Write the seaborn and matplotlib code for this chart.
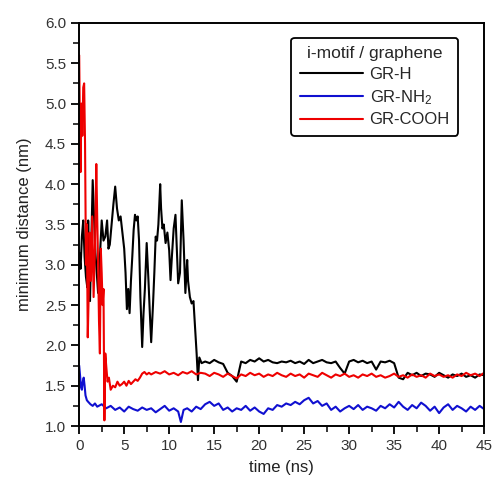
import numpy as np
import pandas as pd
import seaborn as sns
import matplotlib.pyplot as plt
from matplotlib.ticker import MultipleLocator

# GR-H (black)
t_h = [0, 0.15, 0.3, 0.45, 0.6, 0.75, 0.9, 1.0, 1.1, 1.2, 1.35, 1.5, 1.65, 1.8, 1.95,
       2.1, 2.3, 2.5, 2.7, 2.9, 3.1, 3.25, 3.4, 3.6, 3.8, 4.0, 4.2, 4.4, 4.6, 4.8,
       5.0, 5.15, 5.3, 5.45, 5.6, 5.75, 5.9, 6.05, 6.2, 6.35, 6.5, 6.65, 6.8, 7.0,
       7.15, 7.3, 7.5, 7.7, 7.85, 8.0, 8.2, 8.35, 8.5, 8.65, 8.8, 9.0, 9.1, 9.25,
       9.4, 9.6, 9.8, 10.0, 10.15, 10.3, 10.5, 10.7, 10.85, 11.0, 11.2, 11.4, 11.6,
       11.8, 12.0, 12.1, 12.3, 12.5, 12.7, 12.9, 13.05, 13.2, 13.35, 13.6,
       14.0, 14.5, 15.0, 15.5, 16.0, 16.5, 17.0, 17.5, 18.0, 18.5, 19.0, 19.5,
       20.0, 20.5, 21.0, 21.5, 22.0, 22.5, 23.0, 23.5, 24.0, 24.5, 25.0, 25.5,
       26.0, 26.5, 27.0, 27.5, 28.0, 28.5, 29.0, 29.5, 30.0, 30.5, 31.0, 31.5,
       32.0, 32.5, 33.0, 33.5, 34.0, 34.5, 35.0, 35.5, 36.0, 36.5, 37.0, 37.5,
       38.0, 38.5, 39.0, 39.5, 40.0, 40.5, 41.0, 41.5, 42.0, 42.5, 43.0, 43.5,
       44.0, 44.5, 45.0]
d_h = [3.15, 2.95, 3.35, 3.55, 3.1, 2.85, 2.72, 3.55, 2.9, 2.55, 3.3, 4.05, 3.6, 3.15, 2.9,
       2.65, 3.1, 3.55, 3.3, 3.35, 3.55, 3.2, 3.25, 3.5, 3.75, 3.97, 3.7, 3.55, 3.6, 3.4,
       3.2, 2.9, 2.45, 2.7, 2.4, 2.8, 3.1, 3.43, 3.62, 3.55, 3.6, 3.3, 2.6, 1.98,
       2.4, 2.7, 3.27, 2.8, 2.4, 2.04, 2.5, 2.9, 3.35, 3.3, 3.5, 4.0, 3.7, 3.45,
       3.5, 3.27, 3.4, 3.18, 2.81, 3.1, 3.45, 3.62, 3.2, 2.77, 2.9, 3.8, 3.3,
       2.65, 3.06, 2.8, 2.6, 2.52, 2.55, 2.19, 1.9, 1.57, 1.85, 1.78,
       1.80, 1.78, 1.82, 1.79, 1.77, 1.66, 1.62, 1.55, 1.80, 1.78, 1.82, 1.80,
       1.84, 1.80, 1.82, 1.79, 1.78, 1.80, 1.79, 1.81, 1.78, 1.80, 1.77, 1.82,
       1.78, 1.80, 1.82, 1.79, 1.78, 1.80, 1.72, 1.65, 1.80, 1.82, 1.79, 1.81,
       1.78, 1.80, 1.70, 1.80, 1.79, 1.81, 1.78, 1.60, 1.58, 1.66, 1.63, 1.66,
       1.62, 1.65, 1.64, 1.61, 1.66, 1.63, 1.60, 1.64, 1.62, 1.65, 1.61, 1.63,
       1.60, 1.64, 1.63]

# GR-NH2 (blue)
t_nh2 = [0, 0.1, 0.2, 0.3, 0.4, 0.5, 0.6, 0.7, 0.85, 1.0, 1.25, 1.5, 1.75,
         2.0, 2.5, 3.0, 3.5, 4.0, 4.5, 5.0, 5.5, 6.0, 6.5, 7.0, 7.5, 8.0, 8.5,
         9.0, 9.5, 10.0, 10.5, 11.0, 11.3, 11.6, 12.0, 12.5, 13.0, 13.5, 14.0,
         14.5, 15.0, 15.5, 16.0, 16.5, 17.0, 17.5, 18.0, 18.5, 19.0, 19.5, 20.0,
         20.5, 21.0, 21.5, 22.0, 22.5, 23.0, 23.5, 24.0, 24.5, 25.0, 25.5, 26.0,
         26.5, 27.0, 27.5, 28.0, 28.5, 29.0, 29.5, 30.0, 30.5, 31.0, 31.5, 32.0,
         32.5, 33.0, 33.5, 34.0, 34.5, 35.0, 35.5, 36.0, 36.5, 37.0, 37.5, 38.0,
         38.5, 39.0, 39.5, 40.0, 40.5, 41.0, 41.5, 42.0, 42.5, 43.0, 43.5, 44.0,
         44.5, 45.0]
d_nh2 = [1.75, 1.62, 1.48, 1.45, 1.55, 1.6, 1.5, 1.38, 1.32, 1.3, 1.27, 1.25, 1.28,
         1.24, 1.27, 1.22, 1.25, 1.2, 1.23, 1.18, 1.24, 1.21, 1.19, 1.23, 1.2, 1.22, 1.17,
         1.21, 1.25, 1.19, 1.22, 1.18, 1.05, 1.2, 1.22, 1.18, 1.24, 1.21, 1.27,
         1.3, 1.25, 1.28, 1.2, 1.23, 1.18, 1.22, 1.2, 1.25, 1.19, 1.23, 1.18,
         1.15, 1.22, 1.2, 1.26, 1.24, 1.28, 1.26, 1.3, 1.27, 1.32, 1.35, 1.28,
         1.31, 1.25, 1.28, 1.2, 1.24, 1.18, 1.22, 1.25, 1.21, 1.26, 1.2, 1.24,
         1.22, 1.19, 1.25, 1.22, 1.27, 1.23, 1.3, 1.24, 1.2, 1.26, 1.22, 1.29,
         1.25, 1.19, 1.24, 1.16, 1.23, 1.27, 1.2, 1.25, 1.22, 1.18, 1.24, 1.2,
         1.25, 1.21]

# GR-COOH (red)
t_cooh = [0, 0.08, 0.15, 0.25, 0.35, 0.45, 0.55, 0.65, 0.75, 0.85, 0.95, 1.05, 1.15,
          1.3, 1.45, 1.6, 1.75, 1.9, 2.0, 2.1, 2.2, 2.3, 2.4, 2.5, 2.6, 2.7, 2.8, 2.9,
          3.0, 3.15, 3.3, 3.5, 3.75, 4.0, 4.25, 4.5, 4.75, 5.0, 5.25, 5.5, 5.75, 6.0,
          6.25, 6.5, 6.75, 7.0, 7.25, 7.5, 7.75, 8.0, 8.5, 9.0, 9.5, 10.0, 10.5,
          11.0, 11.5, 12.0, 12.5, 13.0, 13.5, 14.0, 14.5, 15.0, 15.5, 16.0, 16.5,
          17.0, 17.5, 18.0, 18.5, 19.0, 19.5, 20.0, 20.5, 21.0, 21.5, 22.0, 22.5,
          23.0, 23.5, 24.0, 24.5, 25.0, 25.5, 26.0, 26.5, 27.0, 27.5, 28.0, 28.5,
          29.0, 29.5, 30.0, 30.5, 31.0, 31.5, 32.0, 32.5, 33.0, 33.5, 34.0, 34.5,
          35.0, 35.5, 36.0, 36.5, 37.0, 37.5, 38.0, 38.5, 39.0, 39.5, 40.0, 40.5,
          41.0, 41.5, 42.0, 42.5, 43.0, 43.5, 44.0, 44.5, 45.0]
d_cooh = [5.6, 4.7, 4.15, 5.0, 4.6, 5.2, 5.25, 4.5, 3.0, 3.5, 2.1, 2.6, 3.4,
          2.8, 3.6, 2.6, 3.2, 4.25, 3.6, 3.0, 2.3, 1.9, 3.2, 2.9, 2.5, 2.7, 1.07, 1.9,
          1.75, 1.55, 1.6, 1.45, 1.5, 1.48, 1.55, 1.5, 1.52, 1.55, 1.5, 1.56, 1.52, 1.55,
          1.58, 1.56, 1.6, 1.65, 1.67, 1.64, 1.66, 1.64, 1.67, 1.65, 1.68, 1.64, 1.66,
          1.63, 1.67, 1.65, 1.68, 1.64, 1.66, 1.65, 1.62, 1.66, 1.64, 1.61, 1.65,
          1.62, 1.59, 1.64, 1.62, 1.66, 1.63, 1.65, 1.61, 1.64, 1.62, 1.66, 1.63,
          1.61, 1.65, 1.62, 1.64, 1.6, 1.65, 1.63, 1.61, 1.66, 1.63, 1.6, 1.64,
          1.62, 1.65, 1.61, 1.63, 1.6, 1.64, 1.62, 1.65, 1.61, 1.63, 1.6, 1.62,
          1.65, 1.61, 1.63, 1.6, 1.64, 1.61, 1.63, 1.6, 1.65, 1.62, 1.64, 1.61,
          1.63, 1.6, 1.64, 1.62, 1.66, 1.63, 1.65, 1.62, 1.66]

labels = ["GR-H", "GR-NH$_2$", "GR-COOH"]
colors = ["#000000", "#1010d0", "#ee0000"]

df = pd.concat([
    pd.DataFrame({"time": t_h, "dist": d_h, "system": labels[0]}),
    pd.DataFrame({"time": t_nh2, "dist": d_nh2, "system": labels[1]}),
    pd.DataFrame({"time": t_cooh, "dist": d_cooh, "system": labels[2]}),
])

sns.set_theme(style="ticks")
plt.rcParams["font.family"] = ["Liberation Sans", "DejaVu Sans"]
plt.rcParams["mathtext.fontset"] = "custom"
plt.rcParams["mathtext.rm"] = "Liberation Sans"
plt.rcParams["mathtext.it"] = "Liberation Sans:italic"

fig = plt.figure(figsize=(4.95, 4.88), dpi=100)
ax = fig.add_axes([0.16, 0.127, 0.818, 0.826])

sns.lineplot(data=df, x="time", y="dist", hue="system", palette=colors,
             estimator=None, sort=False, linewidth=1.5, ax=ax)

ax.set_xlim(0, 45)
ax.set_ylim(1.0, 6.0)
ax.xaxis.set_major_locator(MultipleLocator(5))
ax.xaxis.set_minor_locator(MultipleLocator(2.5))
ax.yaxis.set_major_locator(MultipleLocator(0.5))
ax.yaxis.set_minor_locator(MultipleLocator(0.25))
ax.yaxis.set_major_formatter(plt.FormatStrFormatter("%.1f"))
ax.tick_params(which="major", direction="out", length=6, width=1.3, labelsize=11,
               colors="black", labelcolor="#333333")
ax.tick_params(which="minor", direction="out", length=4, width=1.3)
for s in ax.spines.values():
    s.set_linewidth(1.4)
    s.set_color("black")

ax.set_xlabel("time (ns)", fontsize=12, color="#222222", labelpad=5)
ax.set_ylabel("minimum distance (nm)", fontsize=12, color="#222222", labelpad=9)

handles, _ = ax.get_legend_handles_labels()
leg = ax.legend(handles, labels, title="i-motif / graphene", loc="upper right",
                bbox_to_anchor=(0.936, 0.963), borderaxespad=0, fontsize=12,
                title_fontsize=12.5, handlelength=3.8, handletextpad=0.4,
                labelspacing=0.35, borderpad=0.5, frameon=True, fancybox=True,
                edgecolor="black", framealpha=1)
leg.get_frame().set_linewidth(1.3)
for line in leg.get_lines():
    line.set_linewidth(1.5)

fig.savefig("out.png", dpi=100)
